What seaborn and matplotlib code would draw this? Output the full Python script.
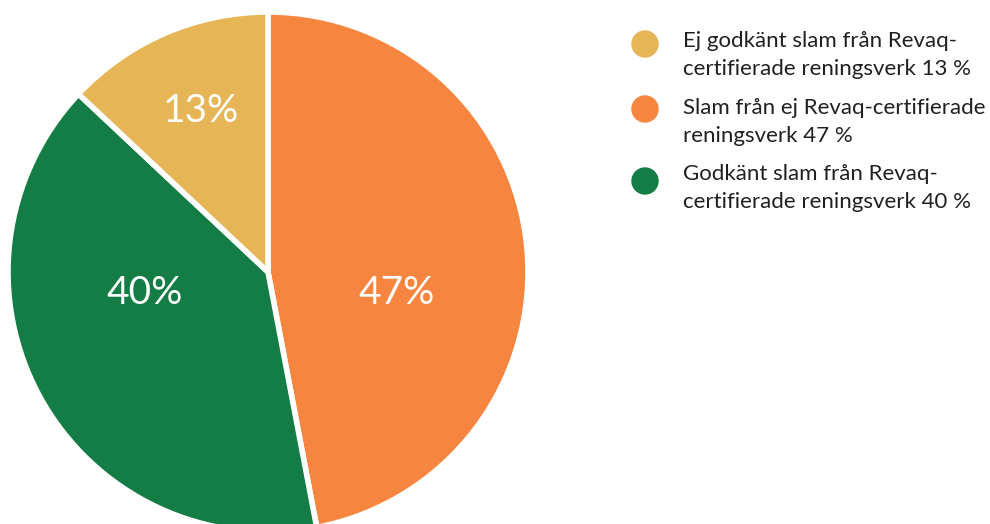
import matplotlib
matplotlib.use("Agg")
import matplotlib.pyplot as plt
import seaborn as sns
from matplotlib.patches import Circle

sns.set_theme(style="white")
plt.rcParams['font.family'] = ['Lato', 'DejaVu Sans']

# Data
values = [47, 40, 13]
pct_labels = ["47%", "40%", "13%"]
colors = ["#F68540", "#147C45", "#E6B556"]
legend_labels = [
    "Ej godkänt slam från Revaq-\ncertifierade reningsverk 13 %",
    "Slam från ej Revaq-certifierade\nreningsverk 47 %",
    "Godkänt slam från Revaq-\ncertifierade reningsverk 40 %",
]
legend_colors = ["#E6B556", "#F68540", "#147C45"]

W, H = 990, 524
fig = plt.figure(figsize=(W / 100, H / 100), dpi=100)
cx, cy, r = 268, 272, 260
ax = fig.add_axes([(cx - r) / W, (H - cy - r) / H, 2 * r / W, 2 * r / H])
wedges, texts = ax.pie(values, colors=colors, startangle=90, counterclock=False,
                       radius=1.0,
                       wedgeprops=dict(edgecolor="white", linewidth=4))
ax.set_xlim(-1, 1)
ax.set_ylim(-1, 1)
ax.set_aspect("equal")
ax.axis("off")

# in-slice labels
label_pos = [(129 / r, -21 / r), (-123 / r, -21 / r), (-67 / r, 161 / r)]
for lab, (x, y) in zip(pct_labels, label_pos):
    ax.text(x, y, lab, color="white", fontsize=28, fontweight="normal",
            ha="center", va="center")

# legend (manual)
lax = fig.add_axes([0, 0, 1, 1])
lax.set_xlim(0, W)
lax.set_ylim(H, 0)
lax.axis("off")
marker_y = [44, 109, 181]
baseline_y = [47, 114, 180]
line_gap = 28
for lab, col, my, by in zip(legend_labels, legend_colors, marker_y, baseline_y):
    lax.add_patch(Circle((645, my), 13, color=col))
    for i, line in enumerate(lab.split("\n")):
        lax.text(683, by + i * line_gap, line, fontsize=16, color="#231F20",
                 ha="left", va="baseline")

fig.savefig("out.png", dpi=100)
